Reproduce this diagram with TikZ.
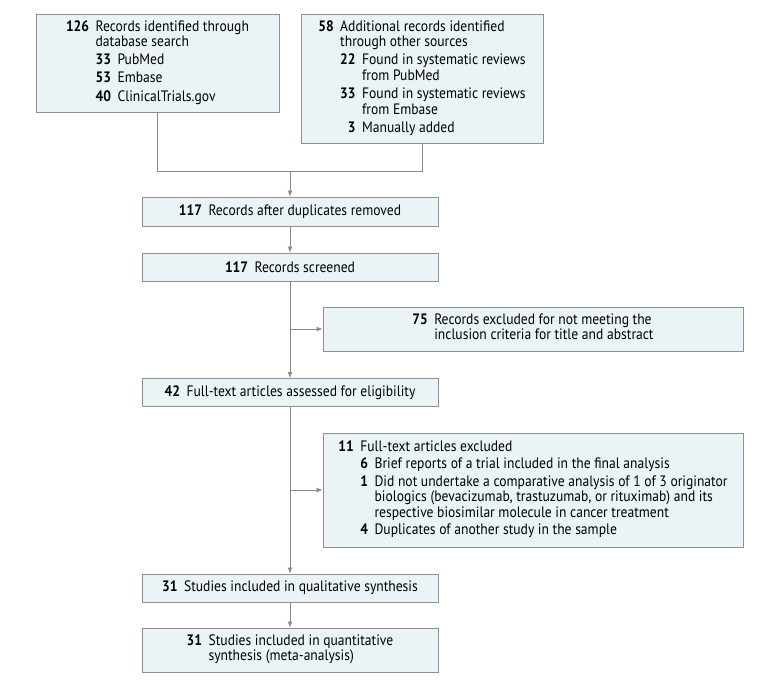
\documentclass[tikz,border=0pt]{standalone}
\usepackage{fontspec}
\setmainfont{PT Sans}[FakeStretch=0.9]
\usetikzlibrary{arrows.meta, positioning}

\definecolor{boxfill}{HTML}{EAF3F5}
\definecolor{boxgray}{HTML}{8E9091}
\definecolor{linegray}{HTML}{8A8A8A}

\tikzset{
  flowbox/.style={draw=boxgray, fill=boxfill, line width=0.9pt, inner sep=0pt, align=center,
    font=\fontsize{15.1}{15.6}\selectfont},
  flowline/.style={draw=linegray, line width=0.9pt},
  flowarrow/.style={flowline, -{Latex[length=6pt, width=5pt]}},
}

\newcommand{\itemtab}[1]{\begin{tabular}{@{}r@{\hspace{6.5pt}}r@{\hspace{6.5pt}}l@{}}#1\end{tabular}}
\newcommand{\spantwo}[1]{\multicolumn{2}{@{}l@{}}{#1}}

\begin{document}
\begin{tikzpicture}[x=1pt, y=-1pt]
  \useasboundingbox (0,0) rectangle (780,686);

  % Identification
  \node[flowbox, minimum width=243pt, minimum height=98pt] (dbsearch) at (157.5,63) {\itemtab{
    \textbf{126} & \spantwo{Records identified through}\\
    & \spantwo{database search}\\[2.5pt]
    & \textbf{33} & PubMed\\[2.5pt]
    & \textbf{53} & Embase\\[2.5pt]
    & \textbf{40} & ClinicalTrials.gov}};
  \node[flowbox, minimum width=242pt, minimum height=129pt] (othersrc) at (422,78.5) {\itemtab{
    \textbf{58} & \spantwo{Additional records identified}\\
    & \spantwo{through other sources}\\[2.5pt]
    & \textbf{22} & Found in systematic reviews\\
    & & from PubMed\\[2.5pt]
    & \textbf{33} & Found in systematic reviews\\
    & & from Embase\\[2.5pt]
    & \textbf{3} & Manually added}};
  \coordinate (merge) at (290,171);

  % Screening
  \node[flowbox, minimum width=296pt, minimum height=29pt] (dedup) at (290,211.5)
    {\textbf{117}\hspace{6.5pt}Records after duplicates removed};
  \node[flowbox, minimum width=296pt, minimum height=28pt] (screened) at (290,267)
    {\textbf{117}\hspace{6.5pt}Records screened};
  \node[flowbox, minimum width=420pt, minimum height=44pt] (excltitle) at (533,329) {\itemtab{
    \textbf{75} & \spantwo{Records excluded for not meeting the}\\
    & \spantwo{inclusion criteria for title and abstract}}};

  % Eligibility
  \node[flowbox, minimum width=296pt, minimum height=28pt] (fulltext) at (290,392.5)
    {\textbf{42}\hspace{6.5pt}Full-text articles assessed for eligibility};
  \node[flowbox, minimum width=420pt, minimum height=114pt] (exclfull) at (533,490) {\itemtab{
    \textbf{11} & \spantwo{Full-text articles excluded}\\[1.5pt]
    & \textbf{6} & Brief reports of a trial included in the final analysis\\[1.5pt]
    & \textbf{1} & Did not undertake a comparative analysis of 1 of 3 originator\\
    & & biologics (bevacizumab, trastuzumab, or rituximab) and its\\
    & & respective biosimilar molecule in cancer treatment\\[1.5pt]
    & \textbf{4} & Duplicates of another study in the sample}};

  % Included
  \node[flowbox, minimum width=296pt, minimum height=28pt] (qualsyn) at (290,588)
    {\textbf{31}\hspace{6.5pt}Studies included in qualitative synthesis};
  \node[flowbox, minimum width=296pt, minimum height=44pt] (quantsyn) at (290,650) {\itemtab{
    \textbf{31} & \spantwo{Studies included in quantitative}\\
    & \spantwo{synthesis (meta-analysis)}}};

  % Connectors
  \draw[flowline] (dbsearch.south) |- (merge);
  \draw[flowline] (othersrc.south) |- (merge);
  \draw[flowarrow] (merge) -- (dedup);
  \draw[flowarrow] (dedup) -- (screened);
  \draw[flowarrow] (screened) -- (fulltext);
  \draw[flowarrow] (screened.south |- excltitle.west) -- (excltitle.west);
  \draw[flowarrow] (fulltext) -- (qualsyn);
  \draw[flowarrow] (fulltext.south |- exclfull.west) -- (exclfull.west);
  \draw[flowarrow] (qualsyn) -- (quantsyn);
\end{tikzpicture}
\end{document}
